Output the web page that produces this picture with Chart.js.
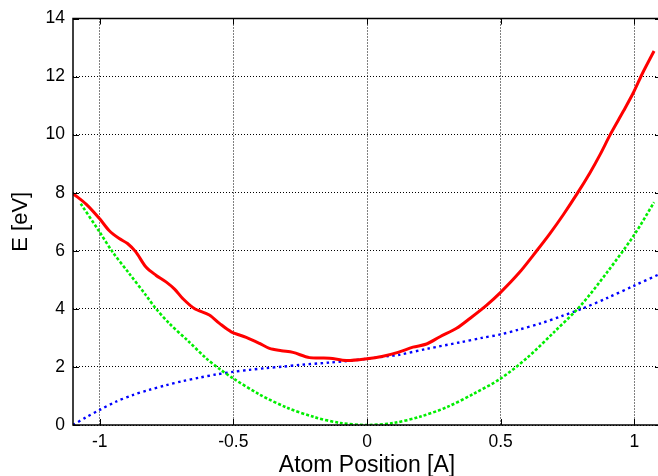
<!DOCTYPE html>
<html>
<head>
<meta charset="utf-8">
<script src="https://cdn.jsdelivr.net/npm/chart.js@4.4.0/dist/chart.umd.min.js"></script>
<style>
  html, body { margin: 0; padding: 0; background: #fff; overflow: hidden; width: 658px; height: 476px; }
  canvas { display: block; }
</style>
</head>
<body>
<canvas id="chart" width="666" height="476" style="width:666px;height:476px"></canvas>
<script>
// Tick values
const xTicks = [-1, -0.5, 0, 0.5, 1];
const yTicks = [0, 2, 4, 6, 8, 10, 12, 14];

// Total energy (red, solid)
const totalX = [-1.1, -1.05, -1.0, -0.965, -0.927, -0.896, -0.865, -0.827, -0.79, -0.752, -0.72, -0.69,
  -0.646, -0.59, -0.552, -0.508, -0.452, -0.402, -0.365, -0.32, -0.277, -0.215, -0.14, -0.077, 0.0,
  0.06, 0.116, 0.172, 0.223, 0.273, 0.335, 0.385, 0.448, 0.498, 0.57, 0.635, 0.685, 0.735, 0.785,
  0.835, 0.873, 0.91, 0.96, 0.997, 1.029, 1.074];
const totalE = [7.97, 7.6, 7.1, 6.7, 6.42, 6.25, 5.96, 5.44, 5.16, 4.93, 4.68, 4.36,
  4.01, 3.79, 3.5, 3.21, 3.02, 2.81, 2.64, 2.56, 2.5, 2.32, 2.3, 2.22, 2.28,
  2.37, 2.5, 2.68, 2.79, 3.04, 3.33, 3.67, 4.13, 4.55, 5.25, 6.0, 6.6, 7.25, 7.95,
  8.7, 9.33, 10.0, 10.82, 11.45, 12.08, 12.88];

// Harmonic part (green, dotted)
const harmX = [-1.071, -1.0, -0.952, -0.89, -0.827, -0.79, -0.74, -0.67, -0.602, -0.55, -0.5, -0.4,
  -0.3, -0.2, -0.1, 0.0, 0.1, 0.2, 0.3, 0.4, 0.5, 0.6, 0.7, 0.8, 0.9, 1.0, 1.074];
const harmE = [7.62, 6.64, 5.96, 5.22, 4.47, 4.01, 3.5, 2.9, 2.3, 1.92, 1.6, 1.04,
  0.6, 0.28, 0.07, 0.0, 0.07, 0.29, 0.62, 1.08, 1.6, 2.32, 3.2, 4.12, 5.28, 6.55, 7.67];

// Remaining part (blue, dotted)
const restX = [-1.1, -1.05, -1.0, -0.94, -0.877, -0.815, -0.752, -0.69, -0.627, -0.565, -0.502, -0.44,
  -0.377, -0.315, -0.252, -0.14, -0.077, 0.0, 0.085, 0.116, 0.228, 0.35, 0.43, 0.5, 0.566, 0.65, 0.728,
  0.803, 0.9, 1.0, 1.1];
const restE = [0.0, 0.27, 0.52, 0.8, 1.03, 1.21, 1.37, 1.51, 1.63, 1.74, 1.83, 1.9,
  1.96, 2.01, 2.07, 2.15, 2.2, 2.28, 2.38, 2.41, 2.63, 2.85, 3.0, 3.12, 3.28, 3.5, 3.75,
  4.0, 4.38, 4.8, 5.22];

const toPoints = (xs, ys) => xs.map((x, i) => ({ x: x, y: ys[i] }));

// Solid frame round the plot area with short inward ticks on all four sides
const frameTicks = {
  id: 'frameTicks',
  afterDatasetsDraw(chart) {
    const { ctx, chartArea: a, scales } = chart;
    const sx = scales.x, sy = scales.y;
    const len = 6;
    ctx.save();
    ctx.strokeStyle = '#000';
    ctx.lineWidth = 1;
    ctx.beginPath();
    xTicks.forEach(v => {
      const px = Math.round(sx.getPixelForValue(v)) + 0.5;
      ctx.moveTo(px, a.bottom); ctx.lineTo(px, a.bottom - len);
      ctx.moveTo(px, a.top); ctx.lineTo(px, a.top + len);
    });
    yTicks.forEach(v => {
      const py = Math.round(sy.getPixelForValue(v)) + 0.5;
      ctx.moveTo(a.left, py); ctx.lineTo(a.left + len, py);
      ctx.moveTo(a.right, py); ctx.lineTo(a.right - len, py);
    });
    ctx.stroke();
    ctx.lineWidth = 1.5;
    ctx.strokeRect(a.left, a.top, a.right - a.left, a.bottom - a.top);
    ctx.restore();
  }
};

Chart.defaults.font.family = '"Liberation Sans", Arial, Helvetica, sans-serif';
Chart.defaults.color = '#000';

new Chart(document.getElementById('chart'), {
  type: 'line',
  data: {
    datasets: [
      {
        label: 'Total',
        data: toPoints(totalX, totalE),
        borderColor: '#ff0000',
        borderWidth: 3,
        tension: 0.3
      },
      {
        label: 'Harmonic',
        data: toPoints(harmX, harmE),
        borderColor: '#00ee00',
        borderWidth: 2.6,
        borderDash: [3, 2],
        tension: 0.3
      },
      {
        label: 'Rest',
        data: toPoints(restX, restE),
        borderColor: '#0000ff',
        borderWidth: 2.4,
        borderDash: [2.5, 3.5],
        tension: 0.3
      }
    ]
  },
  options: {
    responsive: false,
    animation: false,
    devicePixelRatio: 1,
    layout: { padding: { top: 17, right: 5, left: 0, bottom: 0 } },
    elements: { point: { radius: 0 } },
    plugins: { legend: { display: false }, tooltip: { enabled: false } },
    scales: {
      x: {
        type: 'linear',
        min: -1.1,
        max: 1.1,
        afterBuildTicks: s => { s.ticks = xTicks.map(v => ({ value: v })); },
        afterFit: s => { s.height = 51; },
        grid: { color: '#000', lineWidth: 1, drawTicks: false },
        border: { display: false, dash: [1, 2] },
        ticks: { padding: 7, font: { size: 17.5 }, color: '#000', maxRotation: 0, callback: v => String(v) },
        title: { display: true, text: 'Atom Position [A]', font: { size: 23, lineHeight: 1 }, color: '#000', padding: { top: 0, bottom: -1 } }
      },
      y: {
        type: 'linear',
        min: 0,
        max: 14,
        afterBuildTicks: s => { s.ticks = yTicks.map(v => ({ value: v })); },
        afterFit: s => { s.width = 73; },
        grid: { color: '#000', lineWidth: 1, drawTicks: false },
        border: { display: false, dash: [1, 2] },
        ticks: { padding: 8, font: { size: 17.5 }, color: '#000', callback: v => String(v) },
        title: { display: true, text: 'E [eV]', font: { size: 22, lineHeight: 1 }, color: '#000', padding: { top: 10, bottom: 0 } }
      }
    }
  },
  plugins: [frameTicks]
});
</script>
</body>
</html>
